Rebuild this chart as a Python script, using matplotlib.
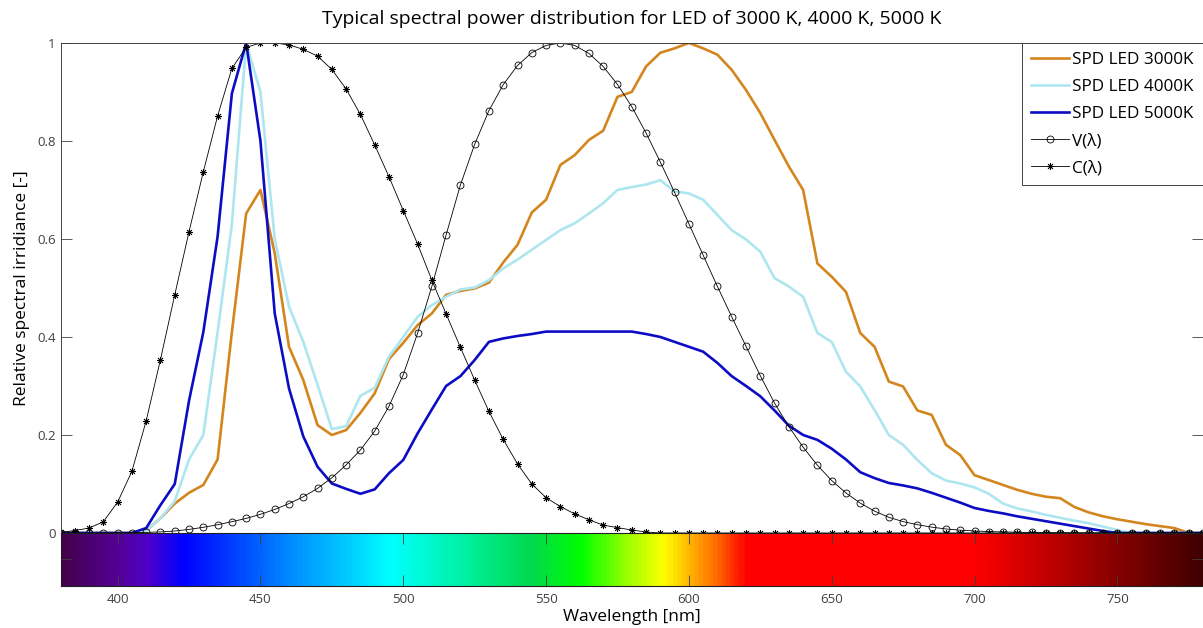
import numpy as np
import matplotlib
matplotlib.use('Agg')
import matplotlib.pyplot as plt
from matplotlib.colors import LinearSegmentedColormap, Normalize

# wavelength grid, 5 nm steps (380 ... 780 nm)
wavelength = np.arange(380, 785, 5)

# relative SPD of the three LEDs
spd_3000 = [0, 0, 0, 0, 0, 0, 0.005, 0.030, 0.060, 0.082,
            0.098, 0.150, 0.410, 0.652, 0.700, 0.571, 0.380, 0.312, 0.220, 0.200,
            0.210, 0.245, 0.285, 0.355, 0.388, 0.424, 0.448, 0.486, 0.494, 0.499,
            0.511, 0.552, 0.588, 0.654, 0.680, 0.751, 0.771, 0.802, 0.821, 0.890,
            0.900, 0.952, 0.980, 0.989, 1.000, 0.989, 0.976, 0.945, 0.904, 0.857,
            0.802, 0.748, 0.700, 0.550, 0.523, 0.492, 0.408, 0.380, 0.309, 0.299,
            0.250, 0.241, 0.180, 0.159, 0.118, 0.108, 0.098, 0.088, 0.080, 0.074,
            0.071, 0.053, 0.042, 0.034, 0.028, 0.023, 0.018, 0.014, 0.010, 0.000,
            0.000]
spd_4000 = [0, 0, 0, 0, 0, 0, 0.005, 0.030, 0.065, 0.150,
            0.200, 0.410, 0.630, 1.000, 0.900, 0.600, 0.462, 0.390, 0.302, 0.212,
            0.218, 0.280, 0.296, 0.360, 0.400, 0.441, 0.465, 0.482, 0.497, 0.501,
            0.516, 0.540, 0.558, 0.578, 0.598, 0.618, 0.632, 0.652, 0.673, 0.700,
            0.706, 0.711, 0.720, 0.697, 0.693, 0.680, 0.649, 0.618, 0.599, 0.574,
            0.520, 0.503, 0.482, 0.408, 0.390, 0.329, 0.299, 0.251, 0.200, 0.180,
            0.149, 0.122, 0.107, 0.101, 0.093, 0.080, 0.060, 0.050, 0.044, 0.037,
            0.031, 0.025, 0.020, 0.013, 0.006, 0.000, 0.000, 0.000, 0.000, 0.000,
            0.000]
spd_5000 = [0, 0, 0, 0, 0, 0, 0.010, 0.057, 0.100, 0.270,
            0.410, 0.605, 0.897, 1.000, 0.800, 0.448, 0.295, 0.197, 0.135, 0.101,
            0.090, 0.080, 0.089, 0.122, 0.149, 0.203, 0.252, 0.300, 0.320, 0.353,
            0.390, 0.397, 0.402, 0.406, 0.411, 0.411, 0.411, 0.411, 0.411, 0.411,
            0.411, 0.406, 0.400, 0.390, 0.380, 0.370, 0.347, 0.320, 0.300, 0.279,
            0.250, 0.219, 0.200, 0.190, 0.172, 0.150, 0.124, 0.112, 0.102, 0.097,
            0.091, 0.082, 0.072, 0.062, 0.051, 0.045, 0.040, 0.034, 0.029, 0.024,
            0.019, 0.014, 0.009, 0.004, 0.000, 0.000, 0.000, 0.000, 0.000, 0.000,
            0.000]

# photopic luminosity V(lambda) and circadian C(lambda)
v_lambda = [0.0000, 0.0001, 0.0001, 0.0002, 0.0004, 0.0006, 0.0012, 0.0022, 0.0040, 0.0073,
            0.0116, 0.0168, 0.0230, 0.0298, 0.0380, 0.0480, 0.0600, 0.0739, 0.0910, 0.1126,
            0.1390, 0.1693, 0.2080, 0.2586, 0.3230, 0.4073, 0.5030, 0.6082, 0.7100, 0.7932,
            0.8620, 0.9149, 0.9540, 0.9803, 0.9950, 1.0000, 0.9950, 0.9786, 0.9520, 0.9154,
            0.8700, 0.8163, 0.7570, 0.6949, 0.6310, 0.5668, 0.5030, 0.4412, 0.3810, 0.3210,
            0.2650, 0.2170, 0.1750, 0.1382, 0.1070, 0.0816, 0.0610, 0.0446, 0.0320, 0.0232,
            0.0170, 0.0119, 0.0082, 0.0057, 0.0041, 0.0029, 0.0021, 0.0015, 0.0010, 0.0007,
            0.0005, 0.0004, 0.0002, 0.0002, 0.0001, 0.0001, 0.0001, 0.0000, 0.0000, 0.0000,
            0.0000]
c_lambda = [0.001, 0.005, 0.010, 0.023, 0.063, 0.126, 0.229, 0.354, 0.486, 0.615,
            0.737, 0.851, 0.948, 0.991, 1.000, 1.000, 0.996, 0.987, 0.973, 0.946,
            0.906, 0.854, 0.792, 0.727, 0.658, 0.590, 0.516, 0.447, 0.379, 0.312,
            0.248, 0.191, 0.141, 0.100, 0.072, 0.054, 0.039, 0.027, 0.016, 0.011,
            0.006, 0.002, 0, 0, 0, 0, 0, 0, 0, 0,
            0, 0, 0, 0, 0, 0, 0, 0, 0, 0,
            0, 0, 0, 0, 0, 0, 0, 0, 0, 0,
            0, 0, 0, 0, 0, 0, 0, 0, 0, 0,
            0]

labels = ['SPD LED 3000K', 'SPD LED 4000K', 'SPD LED 5000K', 'V(λ)', 'C(λ)']
y_ticks = [0, 0.2, 0.4, 0.6, 0.8, 1]
x_ticks = [400, 450, 500, 550, 600, 650, 700, 750]

# colour stops for the visible spectrum strip under the plot
spectrum_stops = [(380, (0.27, 0.00, 0.30)), (400, (0.33, 0.00, 0.60)), (410, (0.30, 0.00, 0.80)),
                  (422, (0.00, 0.00, 1.00)), (440, (0.00, 0.25, 1.00)), (460, (0.00, 0.55, 1.00)),
                  (480, (0.00, 0.80, 1.00)), (495, (0.00, 1.00, 1.00)), (520, (0.00, 0.95, 0.65)),
                  (545, (0.00, 0.85, 0.30)), (562, (0.00, 1.00, 0.00)), (578, (0.60, 1.00, 0.00)),
                  (591, (1.00, 1.00, 0.00)), (600, (1.00, 0.72, 0.00)), (610, (1.00, 0.40, 0.00)),
                  (620, (1.00, 0.00, 0.00)), (700, (1.00, 0.00, 0.00)), (780, (0.25, 0.00, 0.00))]

plt.rcParams['font.family'] = ['Open Sans', 'DejaVu Sans']
axis_col = '#404040'

fig = plt.figure(figsize=(12.03, 6.28), dpi=100)
ax = fig.add_axes([0.0503, 0.1513, 0.9497, 0.7803])
band = fig.add_axes([0.0503, 0.0669, 0.9497, 0.0844])

# LED curves
ax.plot(wavelength, spd_3000, color='#d4861e', lw=1.9, label=labels[0])
ax.plot(wavelength, spd_4000, color='#aee6ef', lw=1.9, label=labels[1])
ax.plot(wavelength, spd_5000, color='#0c0cc4', lw=1.9, label=labels[2])
# eye sensitivity curves
ax.plot(wavelength, v_lambda, color='black', lw=0.6, marker='o', ms=5,
        mfc='none', mec='black', mew=0.6, label=labels[3])
ax.plot(wavelength, c_lambda, color='black', lw=0.6, marker=(8, 2, 0), ms=5,
        mec='black', mew=0.6, label=labels[4])

ax.set_xlim(380, 780)
ax.set_ylim(0, 1)
ax.set_yticks(y_ticks)
ax.set_yticklabels(['0', '0.2', '0.4', '0.6', '0.8', '1'])
ax.tick_params(axis='x', bottom=False, labelbottom=False)
ax.tick_params(axis='y', direction='in', left=True, right=True, length=8,
               width=0.6, colors=axis_col, labelsize=9.5)
for s in ax.spines.values():
    s.set_color(axis_col)
    s.set_linewidth(0.7)
ax.set_ylabel('Relative spectral irridiance [-]', fontsize=12.5, labelpad=5)
ax.set_title('Typical spectral power distribution for LED of 3000 K, 4000 K, 5000 K',
             fontsize=14, pad=14)

leg = ax.legend(loc='upper right', borderaxespad=0, fontsize=12.3, fancybox=False,
                handlelength=2.2, handletextpad=0.2, labelspacing=0.64, borderpad=0.55,
                framealpha=1)
leg.get_frame().set_edgecolor(axis_col)
leg.get_frame().set_linewidth(0.7)

# spectrum strip
cmap = LinearSegmentedColormap.from_list(
    'spectrum', [((w - 380) / 400, c) for w, c in spectrum_stops])
grad = np.linspace(380, 780, 801).reshape(1, -1)
band.imshow(grad, extent=[380, 780, 0, 1], aspect='auto', cmap=cmap,
            norm=Normalize(380, 780), interpolation='bilinear')
band.set_xlim(380, 780)
band.set_ylim(0, 1)
band.set_xticks(x_ticks)
band.set_yticks([0.5])
band.set_yticklabels([])
band.tick_params(axis='x', direction='in', top=True, bottom=True, length=8,
                 width=0.6, colors=axis_col, labelsize=9.5, pad=5)
band.tick_params(axis='y', direction='in', left=True, right=True, length=8,
                 width=0.6, colors=axis_col)
for s in band.spines.values():
    s.set_color('#202020')
    s.set_linewidth(0.8)
band.set_xlabel('Wavelength [nm]', fontsize=12.5, labelpad=2)

fig.savefig('out.png', dpi=100)
